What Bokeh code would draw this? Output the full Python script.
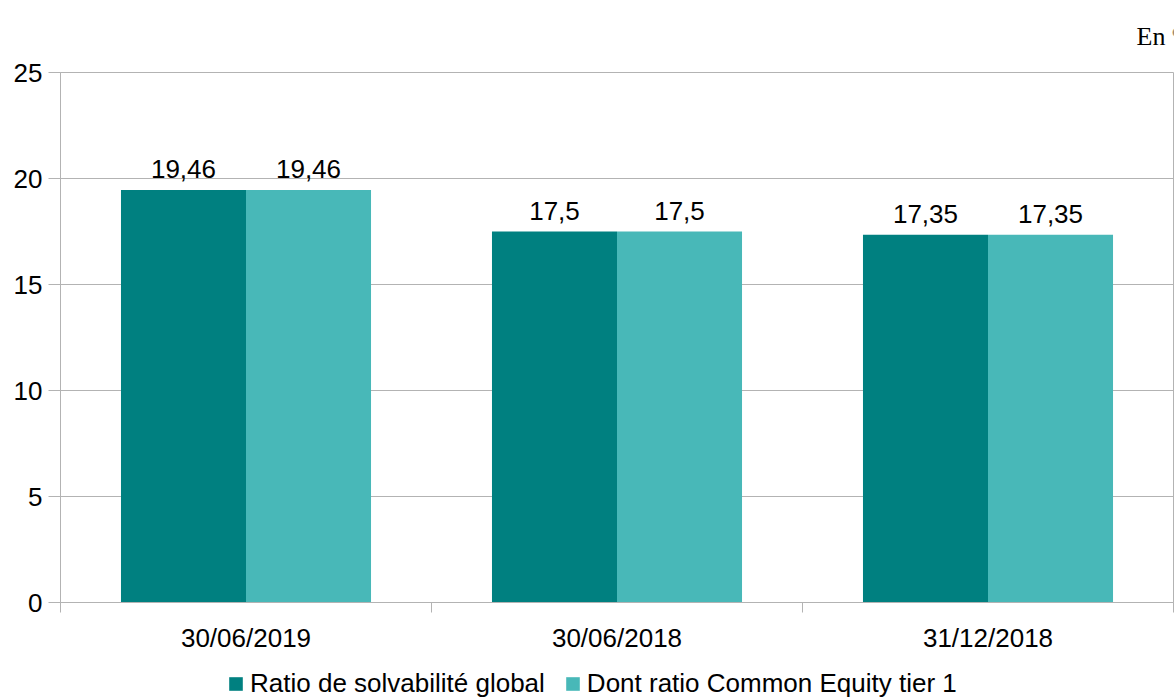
from bokeh.plotting import figure
from bokeh.layouts import column
from bokeh.models import ColumnDataSource, Range1d, FixedTicker, LabelSet, Legend, LegendItem, Label
from bokeh.core.properties import value
from bokeh.embed import file_html
from bokeh.resources import INLINE

categories = ["30/06/2019", "30/06/2018", "31/12/2018"]
series_names = ["Ratio de solvabilité global", "Dont ratio Common Equity tier 1"]
ratio_global = [19.46, 17.5, 17.35]
ratio_cet1 = [19.46, 17.5, 17.35]
y_ticks = [0, 5, 10, 15, 20, 25]
colors = ["#008080", "#48b8b8"]
unit_note = "En %"

FONT = "Liberation Sans"
FS = "26px"
BAR_W = 0.337

# top strip with the unit note
p0 = figure(width=1174, height=45, x_range=Range1d(0, 1), y_range=Range1d(0, 1),
            output_backend="svg", toolbar_location=None, x_axis_type=None, y_axis_type=None,
            min_border=0)
p0.outline_line_color = None
p0.grid.grid_line_color = None
p0.add_layout(Label(x=1076, y=9, x_units="screen", y_units="screen", text=unit_note,
                    text_align="left", text_baseline="alphabetic",
                    text_font="Liberation Serif", text_font_size=FS, text_color="#000000"))

p = figure(width=1174, height=610, x_range=Range1d(0, len(categories)), y_range=Range1d(0, 25),
           output_backend="svg", toolbar_location=None,
           min_border_left=60, min_border_right=1, min_border_top=27, min_border_bottom=48)
p.outline_line_color = "#b3b3b3"
p.xgrid.grid_line_color = None
p.ygrid.grid_line_color = "#b3b3b3"
p.ygrid.ticker = FixedTicker(ticks=y_ticks)

# y axis
p.yaxis.ticker = FixedTicker(ticks=y_ticks)
p.yaxis.axis_line_color = "#b3b3b3"
p.yaxis.major_tick_line_color = "#b3b3b3"
p.yaxis.major_tick_out = 12
p.yaxis.major_tick_in = 0
p.yaxis.minor_tick_line_color = None
p.yaxis.major_label_standoff = 6
p.yaxis.major_label_text_font = FONT
p.yaxis.major_label_text_font_size = FS
p.yaxis.major_label_text_color = "#000000"

# x axis: labels at centers, ticks at category boundaries
centers = [i + 0.5 for i in range(len(categories))]
bounds = [i for i in range(len(categories) + 1)]
p.xaxis.ticker = FixedTicker(ticks=centers, minor_ticks=bounds)
p.xaxis.major_label_overrides = {c: cat for c, cat in zip(centers, categories)}
p.xaxis.axis_line_color = "#b3b3b3"
p.xaxis.major_tick_line_color = None
p.xaxis.major_tick_out = 0
p.xaxis.major_tick_in = 0
p.xaxis.minor_tick_line_color = "#b3b3b3"
p.xaxis.minor_tick_out = 10
p.xaxis.minor_tick_in = 0
p.xaxis.major_label_standoff = 10
p.xaxis.major_label_text_font = FONT
p.xaxis.major_label_text_font_size = FS
p.xaxis.major_label_text_color = "#000000"

# legend strip below the chart (hidden copies of the bars feed the legend swatches)
p2 = figure(width=1174, height=44, x_range=Range1d(0, len(categories)), y_range=Range1d(-2, -1),
            output_backend="svg", toolbar_location=None, x_axis_type=None, y_axis_type=None,
            min_border=0)
p2.outline_line_color = None
p2.grid.grid_line_color = None

items = []
for k, (vals, name, col) in enumerate(zip([ratio_global, ratio_cet1], series_names, colors)):
    off = (k - 0.5) * BAR_W
    src = ColumnDataSource(dict(
        x=[c + off for c in centers],
        top=vals,
        lab=[str(v).replace(".", ",") for v in vals],
    ))
    p.vbar(x="x", top="top", width=BAR_W, source=src, fill_color=col, line_color=None)
    p.add_layout(LabelSet(x="x", y="top", text="lab", source=src, y_offset=12,
                          text_align="center", text_baseline="alphabetic",
                          text_font=value(FONT), text_font_size=value(FS), text_color="#000000"))
    r2 = p2.vbar(x="x", top="top", width=BAR_W, source=src, fill_color=col, line_color=None)
    r2.visible = False
    items.append(LegendItem(label=name, renderers=[r2], index=0))

legend = Legend(items=items, orientation="horizontal", location=(167, 0),
                padding=0, margin=0, spacing=19, label_standoff=6,
                glyph_width=17, glyph_height=17,
                border_line_color=None, background_fill_alpha=0,
                inactive_fill_alpha=0,
                label_text_font=FONT, label_text_font_size=FS, label_text_color="#000000")
p2.add_layout(legend, "center")

layout = column(p0, p, p2, spacing=0)
open("out.html", "w").write(file_html(layout, INLINE))
